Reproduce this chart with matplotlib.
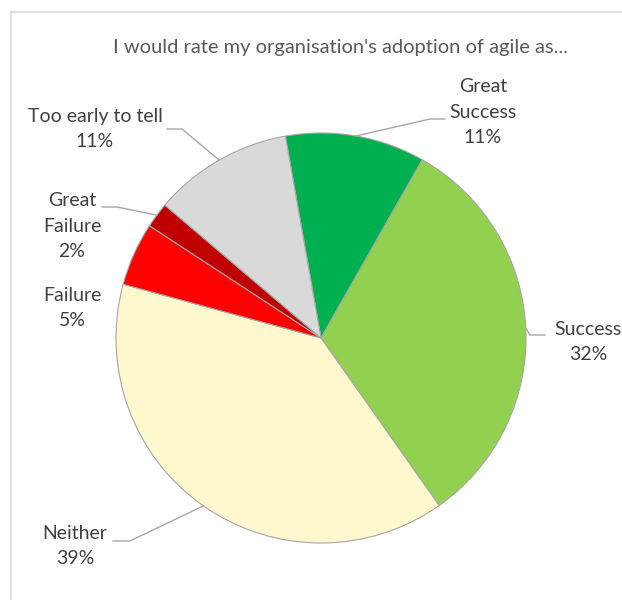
import matplotlib
matplotlib.use('Agg')
import matplotlib.pyplot as plt
import numpy as np
from matplotlib.patches import Rectangle

# data
categories = ["Great\nSuccess", "Success", "Neither", "Failure", "Great\nFailure", "Too early to tell"]
shares = [11, 32, 39, 5, 2, 11]
colors = ["#00B050", "#92D050", "#FFF8CF", "#FF0000", "#C00000", "#D9D9D9"]
title = "I would rate my organisation's adoption of agile as..."

# layout in pixels
W, H = 622, 600
CX, CY, R = 321, 338, 205
label_pos = [(483, 112), (588, 342), (75, 546), (72, 308), (72, 226), (95, 129)]
leaders = [((430, 119), (445, 119)),
           ((530, 335), (545, 335)),
           ((130, 541), (113, 541)),
           None,
           ((117, 207), (102, 207)),
           ((182, 129), (167, 129))]

plt.rcParams['font.family'] = ['Lato', 'DejaVu Sans']


def to_data(px, py):
    return (px - CX) / R, (CY - py) / R


fig = plt.figure(figsize=(W / 100, H / 100), dpi=100)
fig.patches.append(Rectangle((11 / W, -0.1), 1.2, 1.1 - 12 / H, transform=fig.transFigure,
                             facecolor="none", edgecolor="#D9D9D9", linewidth=1.2))

ax = fig.add_axes([(CX - R) / W, (H - CY - R) / H, 2 * R / W, 2 * R / H])
wedges, _ = ax.pie(shares, colors=colors, startangle=100, counterclock=False, radius=1,
                   wedgeprops=dict(edgecolor="#A6A6A6", linewidth=0.8))
ax.set_xlim(-1, 1)
ax.set_ylim(-1, 1)
ax.set_aspect('equal')
ax.axis('off')

for w, name, v, pos, lead in zip(wedges, categories, shares, label_pos, leaders):
    if lead is not None:
        mid = np.deg2rad((w.theta1 + w.theta2) / 2)
        (ex, ey), (tx, ty) = to_data(*lead[0]), to_data(*lead[1])
        ax.plot([np.cos(mid), ex, tx], [np.sin(mid), ey, ty], color="#A6A6A6",
                linewidth=1, clip_on=False)
    fig.text(pos[0] / W, 1 - pos[1] / H, f"{name}\n{v}%", ha="center", va="center",
             multialignment="center", fontsize=14, color="#404040", linespacing=1.58)

fig.text(340 / W, 1 - 47 / H, title, ha="center", va="center", fontsize=14.5, color="#595959")

fig.savefig("out.png", dpi=100)
